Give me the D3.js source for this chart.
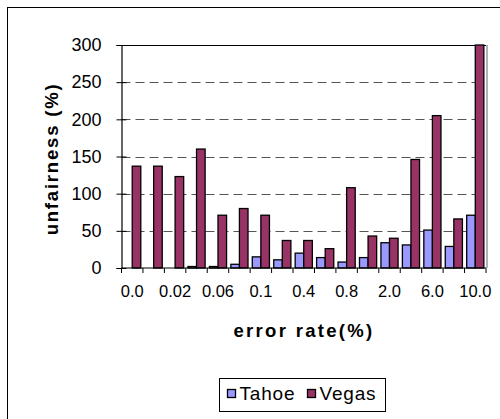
<!DOCTYPE html>
<html>
<head>
<meta charset="utf-8">
<script src="https://cdn.jsdelivr.net/npm/d3@7"></script>
<style>
  html, body { margin: 0; padding: 0; background: #fff; }
  svg { display: block; font-family: "Liberation Sans", Arial, sans-serif; }
</style>
</head>
<body>
<svg id="chart" width="500" height="419"></svg>
<script>
// Error rates (%) on the category axis; every other one gets a label.
const categories = ["0.0", "0.01", "0.02", "0.04", "0.06", "0.08", "0.1", "0.2", "0.4",
                    "0.6", "0.8", "1.0", "2.0", "4.0", "6.0", "8.0", "10.0"];
const tahoe = [0, 0, 0, 2, 2, 5, 15, 11, 20, 14, 8, 14, 34, 31, 51, 29, 71];
const vegas = [137, 137, 123, 160, 71, 80, 71, 37, 37, 26, 108, 43, 40, 146, 205, 66, 300];
const seriesNames = ["Tahoe", "Vegas"];
const seriesColors = ["#9999FF", "#993366"];
const yTicks = [0, 50, 100, 150, 200, 250, 300];

const svg = d3.select("#chart");

// Outer chart frame
svg.append("rect")
  .attr("x", 7.5).attr("y", 7.5)
  .attr("width", 520).attr("height", 440)
  .attr("fill", "#fff").attr("stroke", "#000").attr("stroke-width", 1);

const plot = { left: 121.5, right: 486, top: 45, bottom: 268 };

const x = d3.scaleBand()
  .domain(categories)
  .range([plot.left, plot.right])
  .paddingInner(0).paddingOuter(0);

const inner = d3.scaleBand()
  .domain(seriesNames)
  .range([0, x.bandwidth()])
  .paddingInner(0).paddingOuter(0.25);

const y = d3.scaleLinear().domain([0, 300]).range([plot.bottom, plot.top]);

// Dashed gridlines
svg.append("g")
  .selectAll("line")
  .data(yTicks.filter(d => d > 0 && d < 300))
  .join("line")
  .attr("x1", plot.left).attr("x2", plot.right - 3)
  .attr("y1", d => Math.round(y(d)) + 0.5).attr("y2", d => Math.round(y(d)) + 0.5)
  .attr("stroke", "#555").attr("stroke-width", 1.2)
  .attr("stroke-dasharray", "9,5");

// Plot area outline: solid top, grey right edge
svg.append("line")
  .attr("x1", plot.left).attr("x2", plot.right)
  .attr("y1", plot.top + 0.5).attr("y2", plot.top + 0.5)
  .attr("stroke", "#000").attr("stroke-width", 1);
svg.append("line")
  .attr("x1", plot.right + 1).attr("x2", plot.right + 1)
  .attr("y1", plot.top).attr("y2", plot.bottom)
  .attr("stroke", "#999").attr("stroke-width", 1.5);

// Bars
const rows = categories.map((c, i) => ({ cat: c, values: [tahoe[i], vegas[i]] }));
svg.append("g")
  .selectAll("g")
  .data(rows)
  .join("g")
  .attr("transform", d => `translate(${x(d.cat)},0)`)
  .selectAll("rect")
  .data(d => d.values.map((v, k) => ({ name: seriesNames[k], v, k })))
  .join("rect")
  .attr("x", d => inner(d.name))
  .attr("width", inner.bandwidth())
  .attr("y", d => y(d.v))
  .attr("height", d => y(0) - y(d.v))
  .attr("fill", d => seriesColors[d.k])
  .attr("stroke", "#000")
  .attr("stroke-width", 1.3)
  .attr("display", d => d.v === 0 ? "none" : null);

// Y axis with ticks crossing the axis line
const yAxis = svg.append("g")
  .attr("transform", `translate(${plot.left},0)`)
  .call(d3.axisLeft(y).tickValues(yTicks).tickSize(5).tickPadding(15));
yAxis.select(".domain").attr("stroke", "#000").attr("stroke-width", 1.2);
yAxis.selectAll(".tick line").attr("x1", -5).attr("x2", 5).attr("stroke", "#000");
yAxis.selectAll(".tick text")
  .attr("font-size", 18).attr("fill", "#000")
  .attr("font-family", "Liberation Sans, Arial, sans-serif");

// X axis: ticks at category boundaries, labels on every other category
const xAxisG = svg.append("g");
xAxisG.append("line")
  .attr("x1", plot.left).attr("x2", plot.right)
  .attr("y1", plot.bottom).attr("y2", plot.bottom)
  .attr("stroke", "#000").attr("stroke-width", 1.2);
const boundaries = categories.map(c => x(c)).concat([plot.right]);
xAxisG.selectAll("line.tk")
  .data(boundaries)
  .join("line")
  .attr("class", "tk")
  .attr("x1", d => d).attr("x2", d => d)
  .attr("y1", plot.bottom).attr("y2", plot.bottom + 5)
  .attr("stroke", "#000");
xAxisG.selectAll("text")
  .data(categories.filter((c, i) => i % 2 === 0))
  .join("text")
  .attr("x", d => x(d) + x.bandwidth() / 2)
  .attr("y", 297)
  .attr("text-anchor", "middle")
  .attr("font-size", 16.5)
  .text(d => d);

// Axis titles
svg.append("text")
  .attr("transform", `translate(58,159) rotate(-90)`)
  .attr("text-anchor", "middle")
  .attr("font-size", 18.5).attr("font-weight", "bold")
  .attr("letter-spacing", 1.8)
  .text("unfairness (%)");

svg.append("text")
  .attr("x", 304).attr("y", 337)
  .attr("text-anchor", "middle")
  .attr("font-size", 18.5).attr("font-weight", "bold")
  .attr("letter-spacing", 2.3)
  .text("error rate(%)");

// Legend
const legend = svg.append("g");
legend.append("rect")
  .attr("x", 219.5).attr("y", 378.5)
  .attr("width", 166).attr("height", 33)
  .attr("fill", "#fff").attr("stroke", "#000").attr("stroke-width", 1);
const legendItems = [
  { name: seriesNames[0], color: seriesColors[0], sx: 227.5, tx: 239.5 },
  { name: seriesNames[1], color: seriesColors[1], sx: 307.5, tx: 319.5 }
];
legend.selectAll("rect.sw")
  .data(legendItems)
  .join("rect")
  .attr("class", "sw")
  .attr("x", d => d.sx).attr("y", 389.5)
  .attr("width", 8).attr("height", 8)
  .attr("fill", d => d.color).attr("stroke", "#000").attr("stroke-width", 1.3);
legend.selectAll("text")
  .data(legendItems)
  .join("text")
  .attr("x", d => d.tx).attr("y", 400)
  .attr("font-size", 19)
  .attr("letter-spacing", 0.8)
  .text(d => d.name);
</script>
</body>
</html>
